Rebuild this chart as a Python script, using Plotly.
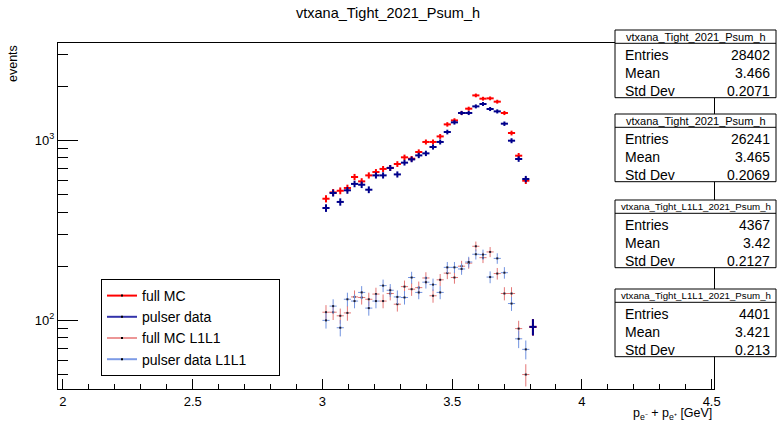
import math
import plotly.graph_objects as go

# ---------------- data ----------------
bin_width = 0.0275
first_center = 3.01375
n_bins = 30
x_centers = [round(first_center + i * bin_width, 5) for i in range(n_bins)]

full_mc = [474, 514, 525, 544, 626, 592, 639, 667, 694, 703,
           739, 805, 791, 862, 980, 980, 1052, 1227, 1291, 1420,
           1500, 1778, 1705, 1712, 1641, 1420, 1099, 822, 597, 92]
pulser = [421, 510, 455, 528, 573, 567, 532, 639, 639, 703,
          647, 752, 784, 825, 847, 919, 980, 1113, 1259, 1420,
          1420, 1545, 1593, 1494, 1449, 1238, 996, 788, 610, 92]
full_mc_l1 = [111, 111, 106, 110, 135, 134, 131, 140, 128, 141,
              123, 154, 149, 152, 172, 137, 168, 183, 173, 200,
              208, 258, 223, 240, 182, 141, 141, 90, 50]
pulser_l1 = [100, 120, 91, 131, 128, 143, 117, 128, 156, 147,
             135, 134, 173, 143, 163, 158, 143, 197, 197, 193,
             211, 233, 232, 174, 221, 184, 124, 79, 69]

series_names = ["full MC", "pulser data", "full MC L1L1", "pulser data L1L1"]
series_values = [full_mc, pulser, full_mc_l1, pulser_l1]
series_colors = ["#ff0000", "#00008c", "rgb(228,118,118)", "rgb(112,146,224)"]
legend_colors = ["#ff0000", "#3333aa", "rgb(236,150,150)", "rgb(125,155,230)"]
series_width = [2, 2, 1, 1]

stat_titles = ["vtxana_Tight_2021_Psum_h", "vtxana_Tight_2021_Psum_h",
               "vtxana_Tight_L1L1_2021_Psum_h", "vtxana_Tight_L1L1_2021_Psum_h"]
stat_entries = ["28402", "26241", "4367", "4401"]
stat_means = ["3.466", "3.465", "3.42", "3.421"]
stat_stds = ["0.2071", "0.2069", "0.2127", "0.213"]

x_major_ticks = [2, 2.5, 3, 3.5, 4, 4.5]
y_major_ticks = [100, 1000]
y_major_text = ["10<sup>2</sup>", "10<sup>3</sup>"]
y_minor_ticks = [50, 60, 70, 80, 90, 200, 300, 400, 500, 600, 700, 800, 900, 2000, 3000]

# ---------------- geometry ----------------
W, H = 777, 422
L, R, T, B = 58, 714, 43, 389
PW, PH = R - L, B - T
FONT = "Liberation Sans, Arial, sans-serif"


def px(x):
    return (x - L) / PW


def py(y):
    return (B - y) / PH


fig = go.Figure()

for name, vals, col, lw in zip(series_names, series_values, series_colors, series_width):
    xs = x_centers[:len(vals)]
    fig.add_trace(go.Scatter(
        x=xs, y=vals, mode="markers", name=name, showlegend=False,
        marker=dict(size=2 if lw == 1 else 1, color="#202030" if lw == 1 else col, symbol="square"),
        error_y=dict(type="data", array=[math.sqrt(v) for v in vals], width=0,
                     thickness=lw, color=col),
        error_x=dict(type="constant", value=bin_width / 2, width=0,
                     thickness=lw, color=col),
        hoverinfo="x+y",
    ))

# legend entries (line samples)
for name, col in zip(series_names, legend_colors):
    fig.add_trace(go.Scatter(
        x=[None], y=[None], mode="lines+markers", name=name + "\u00a0" * 7,
        line=dict(color=col, width=2),
        marker=dict(size=2, color="#000000", symbol="square"),
    ))

shapes = []
annotations = []

# stats boxes
box_tops = [30, 114, 200, 289]
box_h = 67.7
box_left, box_right = 615, 776
for k in range(4):
    top = box_tops[k]
    sep = top + 13.3
    bot = top + box_h
    shapes.append(dict(type="rect", xref="paper", yref="paper",
                       x0=px(box_left), x1=px(box_right), y0=py(bot), y1=py(top),
                       line=dict(color="black", width=1), fillcolor="white", layer="above"))
    shapes.append(dict(type="line", xref="paper", yref="paper",
                       x0=px(box_left), x1=px(box_right), y0=py(sep), y1=py(sep),
                       line=dict(color="black", width=1), layer="above"))
    tsize = 11 if "L1L1" not in stat_titles[k] else 9.7
    annotations.append(dict(x=px((box_left + box_right) / 2), y=py(top + 6.8), xref="paper", yref="paper",
                            text=stat_titles[k], showarrow=False, xanchor="center", yanchor="middle",
                            font=dict(size=tsize, color="black", family=FONT)))
    rows = [("Entries", stat_entries[k]), ("Mean", stat_means[k]), ("Std Dev", stat_stds[k])]
    for r, (lab, val) in enumerate(rows):
        yy = top + 25.3 + r * 17.6
        annotations.append(dict(x=px(623), y=py(yy), xref="paper", yref="paper", text=lab,
                                showarrow=False, xanchor="left", yanchor="middle",
                                font=dict(size=14, color="black", family=FONT)))
        annotations.append(dict(x=px(772), y=py(yy), xref="paper", yref="paper", text=val,
                                showarrow=False, xanchor="right", yanchor="middle",
                                font=dict(size=14, color="black", family=FONT)))

# title and axis titles
annotations.append(dict(x=px(388), y=py(13), xref="paper", yref="paper",
                        text="vtxana_Tight_2021_Psum_h", showarrow=False,
                        xanchor="center", yanchor="middle",
                        font=dict(size=14.5, color="black", family=FONT)))
annotations.append(dict(x=px(12.5), y=py(43), xref="paper", yref="paper",
                        text="events", showarrow=False, textangle=-90,
                        xanchor="center", yanchor="top",
                        font=dict(size=12.5, color="black", family=FONT)))
annotations.append(dict(x=px(714), y=py(403.5), xref="paper", yref="paper",
                        text="p<sub>e⁻</sub> + p<sub>e⁺</sub> [GeV]", showarrow=False,
                        xanchor="right", yanchor="top",
                        font=dict(size=12.5, color="black", family=FONT)))

fig.update_layout(
    width=W, height=H,
    margin=dict(l=L, r=W - R, t=T, b=H - B, autoexpand=False),
    paper_bgcolor="white", plot_bgcolor="white",
    font=dict(family=FONT, color="black"),
    showlegend=True,
    legend=dict(x=px(101), y=py(279), xanchor="left", yanchor="top",
                bgcolor="white", bordercolor="black", borderwidth=1,
                font=dict(size=14, family=FONT, color="black"),
                itemwidth=30, tracegroupgap=0),
    shapes=shapes, annotations=annotations,
    xaxis=dict(range=[1.981, 4.509], showgrid=False, zeroline=False,
               showline=True, linecolor="black", linewidth=1, mirror=True,
               tickmode="array", tickvals=x_major_ticks,
               ticktext=[f"{v:g}" for v in x_major_ticks],
               ticks="inside", ticklen=10, tickcolor="black",
               tickfont=dict(size=13, family=FONT, color="black"),
               minor=dict(ticks="inside", dtick=0.1, tick0=2, ticklen=5, tickcolor="black")),
    yaxis=dict(type="log", range=[1.6187, 3.541], showgrid=False, zeroline=False,
               showline=True, linecolor="black", linewidth=1, mirror=True,
               tickmode="array", tickvals=y_major_ticks, ticktext=y_major_text,
               ticks="inside", ticklen=20, tickcolor="black",
               tickfont=dict(size=13, family=FONT, color="black"),
               minor=dict(ticks="inside", tickmode="array", tickvals=y_minor_ticks,
                          ticklen=10, tickcolor="black")),
)

fig.write_html("out.html", config={"displayModeBar": False},
               post_script="document.body.style.margin='0';document.body.style.overflow='hidden';")
